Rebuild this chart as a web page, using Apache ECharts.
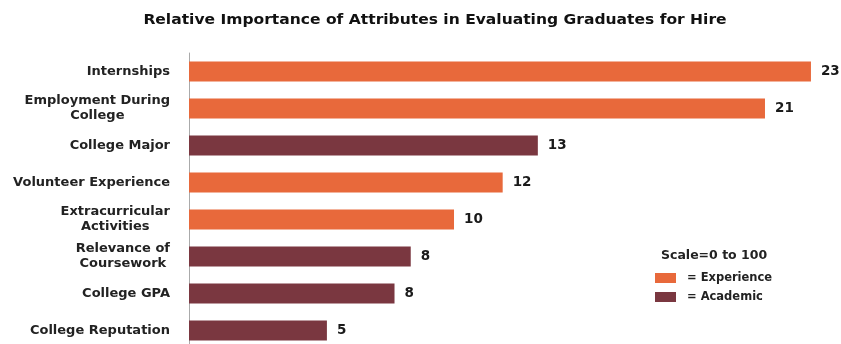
<!DOCTYPE html>
<html>
<head>
<meta charset="utf-8">
<script src="https://cdn.jsdelivr.net/npm/echarts@6/dist/echarts.min.js"></script>
<style>html,body{margin:0;padding:0;background:#fff;overflow:hidden}#c{width:841px;height:352px}</style>
</head>
<body>
<div id="c"></div>
<script>
const categories = ["Internships", "Employment During\nCollege", "College Major", "Volunteer Experience", "Extracurricular\nActivities", "Relevance of\nCoursework", "College GPA", "College Reputation"];
const values = [23, 21.3, 12.9, 11.6, 9.8, 8.2, 7.6, 5.1];
const groups = ["E", "E", "A", "E", "E", "A", "A", "A"];
const experienceValues = values.map((v, i) => groups[i] === "E" ? v : '-');
const academicValues = values.map((v, i) => groups[i] === "A" ? v : '-');

const chart = echarts.init(document.getElementById('c'));
const labelCfg = {
  show: true, position: 'right', distance: 10,
  formatter: p => Math.round(p.value),
  color: '#1a1a1a', fontFamily: 'DejaVu Sans', fontWeight: 700, fontSize: 13.5
};
chart.setOption({
  animation: false,
  graphic: [{
    type: 'text', x: 435, y: 20, scaleX: 1.15,
    style: {
      text: 'Relative Importance of Attributes in Evaluating Graduates for Hire',
      align: 'center', verticalAlign: 'middle',
      fontFamily: 'DejaVu Sans', fontWeight: 700, fontSize: 13.5, fill: '#111'
    }
  }],
  title: [{
    text: 'Scale=0 to 100', left: 656, top: 244,
    textStyle: { fontFamily: 'DejaVu Sans', fontWeight: 700, fontSize: 12.5, color: '#222' }
  }],
  legend: {
    orient: 'vertical', left: 655, top: 272, padding: 0, itemWidth: 21, itemHeight: 10, itemGap: 7,
    icon: 'rect',
    textStyle: { fontFamily: 'DejaVu Sans', fontWeight: 700, fontSize: 11.5, lineHeight: 12, color: '#222', padding: [0, 0, 0, 6] },
    data: ['= Experience', '= Academic']
  },
  grid: { left: 189, top: 53, width: 649, height: 296 },
  xAxis: { type: 'value', min: 0, max: 24, show: false },
  yAxis: {
    type: 'category', inverse: true, data: categories,
    axisLine: { lineStyle: { color: '#aaa' } },
    axisTick: { length: 4, lineStyle: { color: '#999' } },
    axisLabel: {
      margin: 19, color: '#222',
      formatter: v => v.split('\n').map(s => '{c|' + s + '}').join('\n'),
      rich: { c: { align: 'center', fontFamily: 'DejaVu Sans', fontWeight: 700, fontSize: 13, lineHeight: 15, color: '#222' } }
    }
  },
  series: [{
    name: '= Experience', type: 'bar', data: experienceValues, barWidth: 20, barGap: '-100%',
    itemStyle: { color: '#E8693B' }, label: labelCfg
  }, {
    name: '= Academic', type: 'bar', data: academicValues, barWidth: 20, barGap: '-100%',
    itemStyle: { color: '#7A3740' }, label: labelCfg
  }]
});
</script>
</body>
</html>
